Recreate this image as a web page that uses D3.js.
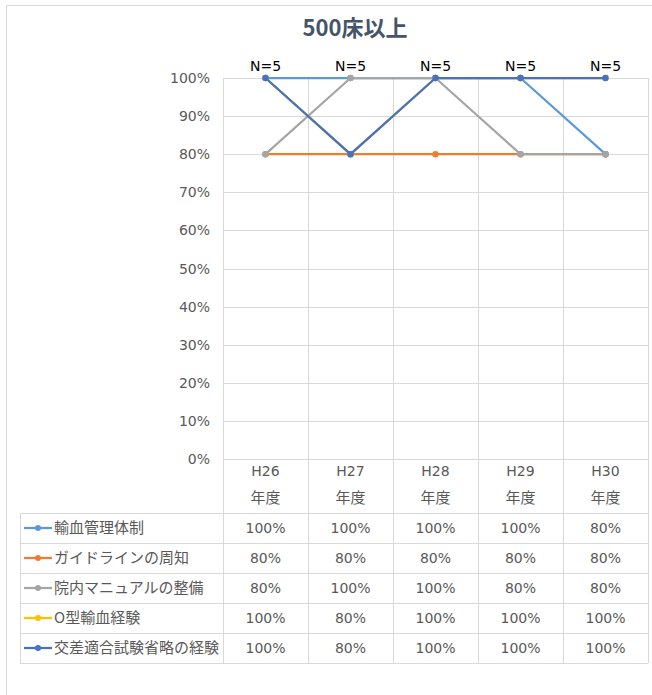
<!DOCTYPE html>
<html>
<head>
    <meta charset="utf-8">
    <style>
        body { margin: 0; background-color: #fff; }
        text { font-family: "DejaVu Sans", "Noto Sans CJK JP", sans-serif; }
        text.jp { font-family: "Noto Sans CJK JP", sans-serif; }
    </style>
    <script src="https://d3js.org/d3.v7.min.js"></script>
</head>
<body>
<script>
    // chart data
    var categories = ["H26", "H27", "H28", "H29", "H30"];
    var seriesNames = ["輸血管理体制", "ガイドラインの周知", "院内マニュアルの整備", "O型輸血経験", "交差適合試験省略の経験"];
    var series1 = [100, 100, 100, 100, 80];
    var series2 = [80, 80, 80, 80, 80];
    var series3 = [80, 100, 100, 80, 80];
    var series4 = [100, 80, 100, 100, 100];
    var series5 = [100, 80, 100, 100, 100];
    var yTicks = [0, 10, 20, 30, 40, 50, 60, 70, 80, 90, 100];
    var nLabels = ["N=5", "N=5", "N=5", "N=5", "N=5"];

    var allSeries = [series1, series2, series3, series4, series5];
    var colors = ["#5B9BD5", "#ED7D31", "#A5A5A5", "#FFC000", "#4472C4"];

    var w = 652, h = 695;
    var svg = d3.select("body").append("svg")
        .attr("width", w)
        .attr("height", h);

    // outer chart border
    svg.append("path")
        .attr("d", "M6.5,695 V5.5 H652")
        .attr("fill", "none")
        .attr("stroke", "#D9D9D9");

    // title
    svg.append("text")
        .attr("class", "jp")
        .attr("x", 355)
        .attr("y", 36)
        .attr("text-anchor", "middle")
        .attr("font-size", "22px")
        .attr("font-weight", "bold")
        .attr("fill", "#44546A")
        .text("500床以上");

    var plotLeft = 223, plotRight = 648;
    var x = d3.scaleBand().domain(categories).range([plotLeft, plotRight]);
    var y = d3.scaleLinear().domain([0, 100]).range([459, 78]);
    var cx = function (c) { return x(c) + x.bandwidth() / 2; };

    var tableTop = 513, rowH = 30, tableLeft = 20;
    var tableBottom = tableTop + rowH * seriesNames.length;
    var grid = "#D9D9D9";

    // horizontal gridlines
    svg.append("g").selectAll("line")
        .data(yTicks)
        .enter().append("line")
        .attr("x1", plotLeft).attr("x2", plotRight)
        .attr("y1", function (d) { return Math.round(y(d)) + 0.5; })
        .attr("y2", function (d) { return Math.round(y(d)) + 0.5; })
        .attr("stroke", grid);

    // y tick labels
    svg.append("g").selectAll("text")
        .data(yTicks)
        .enter().append("text")
        .attr("x", 210)
        .attr("y", function (d) { return y(d) + 5; })
        .attr("text-anchor", "end")
        .attr("font-size", "14px")
        .attr("fill", "#595959")
        .text(function (d) { return d + "%"; });

    // vertical lines (plot + table)
    var vx = categories.map(function (c) { return x(c); }).concat([plotRight]);
    svg.append("g").selectAll("line")
        .data(vx)
        .enter().append("line")
        .attr("x1", function (d) { return Math.round(d) + 0.5; })
        .attr("x2", function (d) { return Math.round(d) + 0.5; })
        .attr("y1", y(100))
        .attr("y2", tableBottom)
        .attr("stroke", grid);

    // table rows
    var rowLines = d3.range(seriesNames.length + 1).map(function (i) { return tableTop + i * rowH; });
    svg.append("g").selectAll("line")
        .data(rowLines)
        .enter().append("line")
        .attr("x1", tableLeft).attr("x2", plotRight)
        .attr("y1", function (d) { return d + 0.5; })
        .attr("y2", function (d) { return d + 0.5; })
        .attr("stroke", grid);
    svg.append("line")
        .attr("x1", tableLeft + 0.5).attr("x2", tableLeft + 0.5)
        .attr("y1", tableTop).attr("y2", tableBottom)
        .attr("stroke", grid);

    // category header
    var head = svg.append("g").selectAll("g")
        .data(categories)
        .enter().append("g");
    head.append("text")
        .attr("x", cx)
        .attr("y", 476)
        .attr("text-anchor", "middle")
        .attr("font-size", "14px")
        .attr("fill", "#595959")
        .text(function (d) { return d; });
    head.append("text")
        .attr("class", "jp")
        .attr("x", cx)
        .attr("y", 503)
        .attr("text-anchor", "middle")
        .attr("font-size", "15px")
        .attr("fill", "#595959")
        .text("年度");

    // lines
    var line = d3.line()
        .x(function (d, i) { return cx(categories[i]); })
        .y(function (d) { return y(d); });

    allSeries.forEach(function (vals, s) {
        var g = svg.append("g");
        g.append("path")
            .datum(vals)
            .attr("d", line)
            .attr("fill", "none")
            .attr("stroke", colors[s])
            .attr("stroke-width", 2.25);
        g.selectAll("circle")
            .data(vals)
            .enter().append("circle")
            .attr("cx", function (d, i) { return cx(categories[i]); })
            .attr("cy", function (d) { return y(d); })
            .attr("r", 3.2)
            .attr("fill", colors[s]);

        // table row
        var ry = tableTop + s * rowH + rowH / 2;
        var row = svg.append("g");
        row.append("line")
            .attr("x1", 24).attr("x2", 52)
            .attr("y1", ry).attr("y2", ry)
            .attr("stroke", colors[s])
            .attr("stroke-width", 2.25);
        row.append("circle")
            .attr("cx", 38).attr("cy", ry).attr("r", 3)
            .attr("fill", colors[s]);
        row.append("text")
            .attr("class", "jp")
            .attr("x", 54).attr("y", ry + 5)
            .attr("font-size", "15px")
            .attr("fill", "#595959")
            .text(seriesNames[s]);
        row.selectAll("text.v")
            .data(vals)
            .enter().append("text")
            .attr("class", "v")
            .attr("x", function (d, i) { return cx(categories[i]); })
            .attr("y", ry + 5)
            .attr("text-anchor", "middle")
            .attr("font-size", "14px")
            .attr("fill", "#595959")
            .text(function (d) { return d + "%"; });
    });

    // N labels
    svg.append("g").selectAll("text")
        .data(nLabels)
        .enter().append("text")
        .attr("x", function (d, i) { return cx(categories[i]); })
        .attr("y", y(100) - 7)
        .attr("text-anchor", "middle")
        .attr("font-size", "14px")
        .attr("fill", "#000")
        .text(function (d) { return d; });
</script>
</body>
</html>
